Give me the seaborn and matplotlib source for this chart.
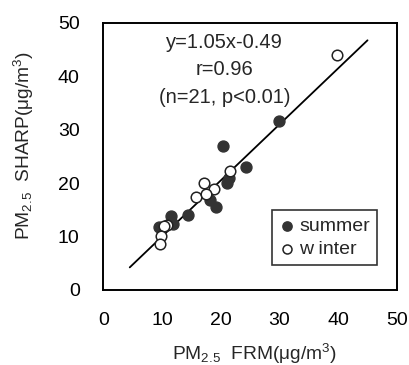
import matplotlib
matplotlib.use("Agg")
import matplotlib.pyplot as plt
import seaborn as sns
import numpy as np
import pandas as pd

# PM2.5 comparison: FRM (x) vs SHARP (y), by season
summer_frm = [30.0, 20.4, 24.3, 21.0, 21.4, 18.1, 19.2, 14.5, 11.6, 11.8, 9.4]
summer_sharp = [31.6, 26.9, 23.1, 20.0, 21.0, 16.8, 15.6, 14.1, 13.9, 12.3, 11.8]
winter_frm = [39.8, 21.6, 17.2, 18.9, 15.8, 17.5, 10.9, 10.3, 9.9, 9.7]
winter_sharp = [44.0, 22.3, 20.0, 19.0, 17.4, 18.0, 12.1, 12.0, 10.2, 8.7]

slope, intercept = 1.05, -0.49
fit_range = [4.5, 45.0]
ticks = [0, 10, 20, 30, 40, 50]

sns.set_theme(style="white")
plt.rcParams["font.family"] = ["Liberation Sans", "DejaVu Sans"]
plt.rcParams["mathtext.fontset"] = "custom"
plt.rcParams["mathtext.rm"] = "Liberation Sans"
plt.rcParams["mathtext.it"] = "Liberation Sans"

summer = pd.DataFrame({"FRM": summer_frm, "SHARP": summer_sharp})
winter = pd.DataFrame({"FRM": winter_frm, "SHARP": winter_sharp})
fit_x = np.array(fit_range)
fit = pd.DataFrame({"FRM": fit_x, "SHARP": slope * fit_x + intercept})

fig = plt.figure(figsize=(4.1, 3.65), dpi=100)
ax = fig.add_axes([0.252, 0.2055, 0.716, 0.7315])

sns.lineplot(data=fit, x="FRM", y="SHARP", ax=ax, color="black", lw=1.3, zorder=1)
sns.scatterplot(data=summer, x="FRM", y="SHARP", ax=ax, s=62, color="#333333",
                edgecolor="#333333", linewidth=1, label="summer", zorder=3)
sns.scatterplot(data=winter, x="FRM", y="SHARP", ax=ax, s=58, facecolor="white",
                edgecolor="#222222", linewidth=1.1, label="w inter", zorder=3)

ax.set_xlim(0, 50)
ax.set_ylim(0, 50)
ax.set_xticks(ticks)
ax.set_yticks(ticks)
ax.tick_params(direction="in", length=4, width=1, colors="black", labelsize=14)
ax.tick_params(axis="x", pad=16)
ax.tick_params(axis="y", pad=17)
for sp in ax.spines.values():
    sp.set_color("black")
    sp.set_linewidth(1.4)

ax.set_xlabel(r"PM$_{2.5}$  FRM(μg/m$^3$)", fontsize=13.8)
ax.set_ylabel(r"PM$_{2.5}$  SHARP(μg/m$^3$)", fontsize=13.8)
ax.xaxis.set_label_coords(0.513, -0.195)
ax.yaxis.set_label_coords(-0.23, 0.54)

ax.text(20.7, 46.3, "y=1.05x-0.49", ha="center", va="center", fontsize=14.5)
ax.text(20.7, 41.2, "r=0.96", ha="center", va="center", fontsize=14.5)
ax.text(20.7, 36.1, "(n=21, p<0.01)", ha="center", va="center", fontsize=14.5)

leg = ax.legend(loc="lower right", bbox_to_anchor=(0.932, 0.094), frameon=True,
                fancybox=False, fontsize=14, handletextpad=0.25, borderpad=0.35,
                handlelength=0.8, labelspacing=0.3, borderaxespad=0,
                markerscale=0.85)
leg.get_frame().set_edgecolor("black")
leg.get_frame().set_linewidth(1.2)

fig.savefig("out.png", dpi=100)
